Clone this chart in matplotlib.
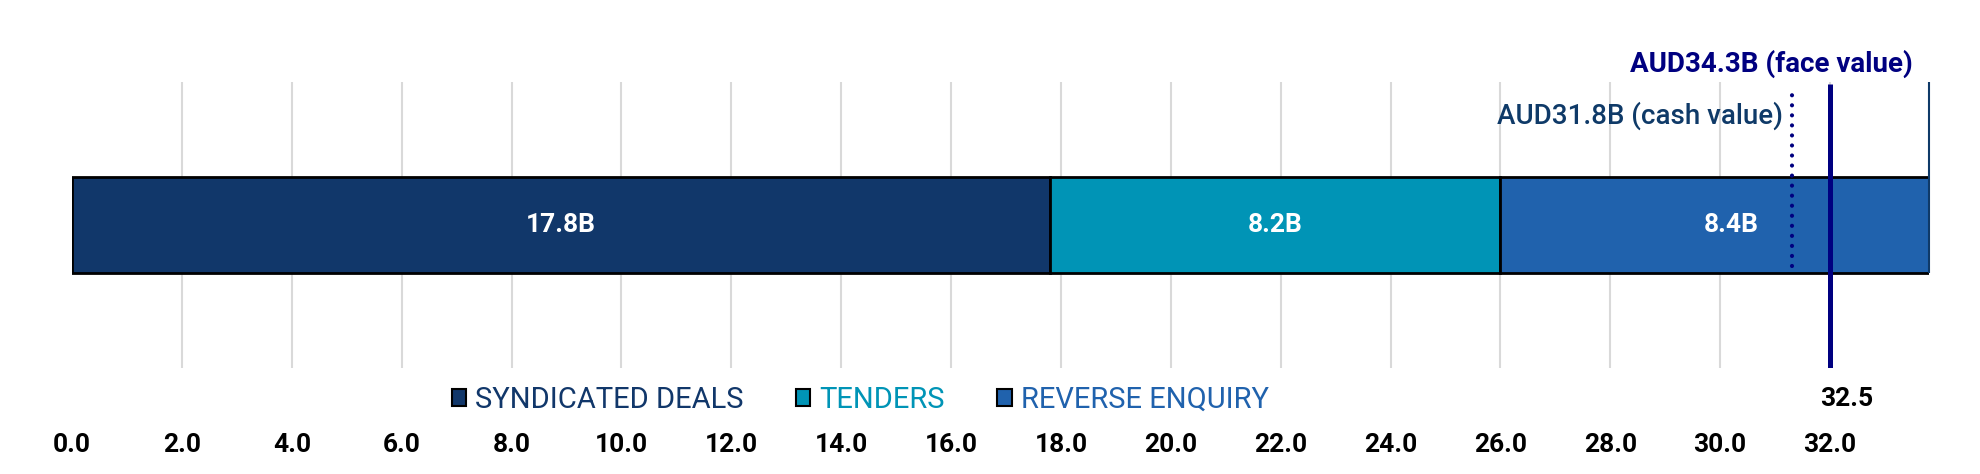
import matplotlib.pyplot as plt
from matplotlib.patches import Patch

plt.rcParams['font.family'] = ['Roboto', 'DejaVu Sans']

# data
series = ['SYNDICATED DEALS', 'TENDERS', 'REVERSE ENQUIRY']
values = [17.8, 8.2, 8.4]
bar_labels = ['17.8B', '8.2B', '8.4B']
colors = ['#11376A', '#0094B6', '#2062AD']
ticks = [0.0, 2.0, 4.0, 6.0, 8.0, 10.0, 12.0, 14.0, 16.0, 18.0,
         20.0, 22.0, 24.0, 26.0, 28.0, 30.0, 32.0]
x_max = 33.8
cash_x = 31.3
face_x = 32.0
cash_text = 'AUD31.8B (cash value)'
face_text = 'AUD34.3B (face value)'
face_tick = '32.5'

fig = plt.figure(figsize=(19.8, 4.74), dpi=100)
ax = fig.add_axes([0.0364, 0.2236, 0.9378, 0.6034])
ax.set_xlim(0, x_max)
ax.set_ylim(-1.5, 1.5)

left = 0
for v, c, lab in zip(values, colors, bar_labels):
    ax.barh(0, v, left=left, height=1.0, color=c, edgecolor='black',
            linewidth=2, zorder=2)
    ax.text(left + v / 2, 0, lab, ha='center', va='center', color='white',
            fontsize=19, fontweight='bold', zorder=5)
    left += v

# grid
ax.set_xticks(ticks)
ax.set_xticklabels(['%.1f' % t for t in ticks], fontsize=19,
                   fontweight='bold', color='black')
ax.tick_params(axis='x', length=0, pad=47)
ax.set_yticks([])
for s in ax.spines.values():
    s.set_visible(False)
ax.vlines(ticks[1:], -1.5, 1.5, color='#D9D9D9', linewidth=1.5, zorder=0)
ax.vlines(x_max, -0.5, 1.5, color='#0F3A68', linewidth=1.5, zorder=4,
          clip_on=False)

# reference lines
ax.plot([cash_x, cash_x], [-0.43, 1.46], color='#000080', linewidth=3,
        linestyle=(0, (0.01, 2.4)), dash_capstyle='round', zorder=6)
ax.plot([face_x, face_x], [-1.5, 1.48], color='#000080', linewidth=3.6,
        zorder=6, solid_capstyle='butt')
ax.text(cash_x - 0.15, 1.15, cash_text, ha='right', va='center',
        fontsize=20, fontweight='medium', color='#0F3A68', zorder=6)
ax.text(33.5, 1.69, face_text, ha='right', va='center', fontsize=20,
        fontweight='bold', color='#000080', clip_on=False)
ax.text(32.3, -1.83, face_tick, ha='center', va='center', fontsize=19,
        fontweight='bold', color='black', clip_on=False)

handles = [Patch(facecolor=c, edgecolor='black', linewidth=1.5) for c in colors]
fig.legend(handles, series, loc='center', bbox_to_anchor=(860 / 1980, 1 - 400 / 474),
           ncol=3, frameon=False, fontsize=21, handlelength=0.5,
           handleheight=0.5, handletextpad=0.3, columnspacing=1.8,
           labelcolor=colors)

fig.savefig('out.png', dpi=100)
